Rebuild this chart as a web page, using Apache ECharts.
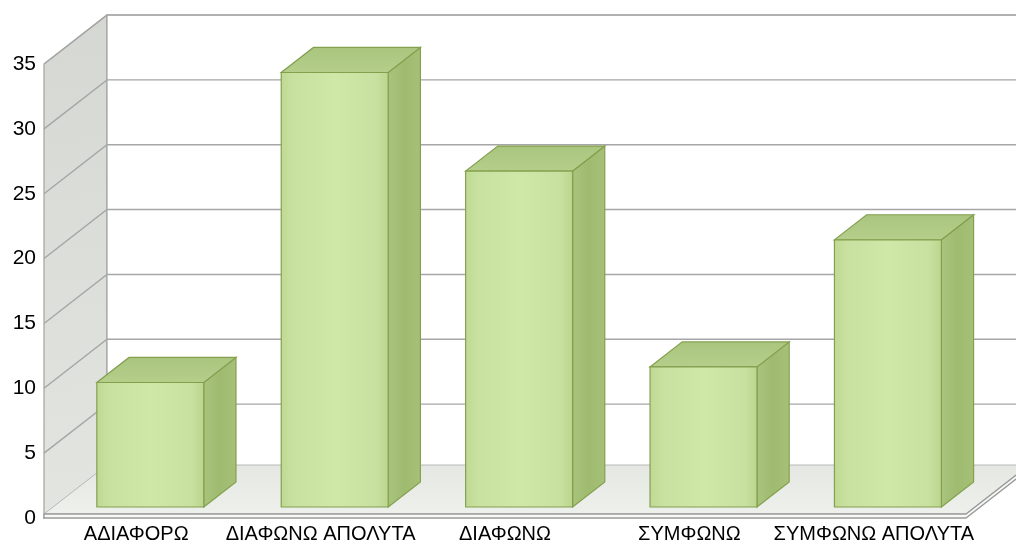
<!DOCTYPE html>
<html>
<head>
<meta charset="utf-8">
<script src="https://cdn.jsdelivr.net/npm/echarts@6/dist/echarts.min.js"></script>
<style>
  html, body { margin: 0; padding: 0; background: #ffffff; }
  #chart { width: 1016px; height: 547px; }
</style>
</head>
<body>
<div id="chart"></div>
<script>
// Survey answers (percent of respondents)
const categories = ['ΑΔΙΑΦΟΡΩ', 'ΔΙΑΦΩΝΩ ΑΠΟΛΥΤΑ', 'ΔΙΑΦΩΝΩ', 'ΣΥΜΦΩΝΩ', 'ΣΥΜΦΩΝΩ ΑΠΟΛΥΤΑ'];
const values = [9.6, 33.5, 25.9, 10.8, 20.6];
const yTicks = [0, 5, 10, 15, 20, 25, 30, 35];

// Oblique projection: pixel shift from the front plane to the back wall
const DX = 63, DY = -49;
// Bar placement in depth (0 = front, 1 = back wall) and width share of a category band
const BAR_D0 = 0.224, BAR_D1 = 0.735, BAR_W = 0.58;
const FONT = '"Liberation Sans", Arial, sans-serif';

const chart = echarts.init(document.getElementById('chart'), null, { renderer: 'canvas' });

function renderRoom(params, api) {
  if (params.dataIndex !== 0) return;
  const cs = params.coordSys;
  const xl = cs.x, xr = cs.x + cs.width;
  const y0 = api.coord([0, 0])[1];
  const yTop = api.coord([0, yTicks[yTicks.length - 1]])[1];
  const children = [];
  const lineStyle = { stroke: '#a6a6a6', lineWidth: 1.4, fill: null };

  // left wall
  children.push({
    type: 'polygon',
    shape: { points: [[xl, y0], [xl, yTop], [xl + DX, yTop + DY], [xl + DX, y0 + DY]] },
    style: {
      fill: new echarts.graphic.LinearGradient(0, 0, 1, 1, [
        { offset: 0, color: '#d5d7d2' }, { offset: 1, color: '#e3e5e0' }
      ]),
      stroke: '#a3a3a3', lineWidth: 1.2
    }
  });
  // back wall
  children.push({
    type: 'polygon',
    shape: { points: [[xl + DX, y0 + DY], [xl + DX, yTop + DY], [xr + DX, yTop + DY], [xr + DX, y0 + DY]] },
    style: { fill: '#ffffff', stroke: '#a3a3a3', lineWidth: 1.2 }
  });
  // gridlines on both walls
  yTicks.forEach(function (t) {
    const y = api.coord([0, t])[1];
    children.push({
      type: 'polyline',
      shape: { points: [[xl, y], [xl + DX, y + DY], [xr + DX, y + DY]] },
      style: lineStyle
    });
  });
  // floor top and its thin front edge
  const slab = 4;
  children.push({
    type: 'polygon',
    shape: { points: [[xl, y0 - slab], [xr, y0 - slab], [xr + DX, y0 + DY - slab], [xl + DX, y0 + DY - slab]] },
    style: {
      fill: new echarts.graphic.LinearGradient(0, 0, 0, 1, [
        { offset: 0, color: '#e4e7e2' }, { offset: 1, color: '#eef0ec' }
      ]),
      stroke: '#b8b8b8', lineWidth: 1
    }
  });
  children.push({
    type: 'polygon',
    shape: { points: [[xl, y0 - slab], [xr, y0 - slab], [xr + DX, y0 + DY - slab], [xr + DX, y0 + DY], [xr, y0], [xl, y0]] },
    style: { fill: '#f8f8f7', stroke: '#9a9a9a', lineWidth: 1.3 }
  });
  return { type: 'group', children: children };
}

function renderBar(params, api) {
  const idx = api.value(0);
  const base = api.coord([idx, 0]);
  const top = api.coord([idx, api.value(1)]);
  const w = api.size([1, 0])[0] * BAR_W;
  const ox = BAR_D0 * DX, oy = BAR_D0 * DY;
  const ddx = (BAR_D1 - BAR_D0) * DX, ddy = (BAR_D1 - BAR_D0) * DY;
  const x0 = base[0] - w / 2 + ox, x1 = base[0] + w / 2 + ox;
  const yt = top[1] + oy, yb = base[1] + oy;
  const edge = '#84a04f';
  return {
    type: 'group',
    children: [
      { // right side
        type: 'polygon',
        shape: { points: [[x1, yt], [x1 + ddx, yt + ddy], [x1 + ddx, yb + ddy], [x1, yb]] },
        style: {
          fill: new echarts.graphic.LinearGradient(0, 0, 1, 0, [
            { offset: 0, color: '#a9c47d' }, { offset: 0.5, color: '#9fbb70' }, { offset: 1, color: '#a6c177' }
          ]),
          stroke: edge, lineWidth: 1.2
        }
      },
      { // top
        type: 'polygon',
        shape: { points: [[x0, yt], [x1, yt], [x1 + ddx, yt + ddy], [x0 + ddx, yt + ddy]] },
        style: {
          fill: new echarts.graphic.LinearGradient(0, 1, 0, 0, [
            { offset: 0, color: '#b5cf8b' }, { offset: 1, color: '#a9c57e' }
          ]),
          stroke: edge, lineWidth: 1.2
        }
      },
      { // front
        type: 'rect',
        shape: { x: x0, y: yt, width: x1 - x0, height: yb - yt },
        style: {
          fill: new echarts.graphic.LinearGradient(0, 0, 1, 0, [
            { offset: 0, color: '#bfd993' }, { offset: 0.12, color: '#c8e1a0' },
            { offset: 0.5, color: '#cfe7a7' }, { offset: 0.88, color: '#c8e1a0' }, { offset: 1, color: '#bbd58e' }
          ]),
          stroke: edge, lineWidth: 1.2
        }
      }
    ]
  };
}

chart.setOption({
  animation: false,
  backgroundColor: '#ffffff',
  grid: { left: 44, right: 50, top: 64, bottom: 29, containLabel: false },
  xAxis: {
    type: 'category',
    data: categories,
    axisLine: { show: false },
    axisTick: { show: false },
    splitLine: { show: false },
    axisLabel: { color: '#000', fontSize: 20, fontFamily: FONT, margin: 6, interval: 0 }
  },
  yAxis: {
    type: 'value',
    min: 0, max: 35, interval: 5,
    axisLine: { show: false },
    axisTick: { show: false },
    splitLine: { show: false },
    axisLabel: { color: '#000', fontSize: 21, fontFamily: FONT, margin: 8 }
  },
  series: [
    {
      type: 'custom',
      name: 'room',
      z: 1,
      silent: true,
      renderItem: renderRoom,
      data: [[0, 0]],
      encode: { x: 0, y: 1 }
    },
    {
      type: 'custom',
      name: 'bars',
      z: 2,
      renderItem: renderBar,
      data: values.map(function (v, i) { return [i, v]; }),
      encode: { x: 0, y: 1 }
    }
  ]
});
</script>
</body>
</html>
